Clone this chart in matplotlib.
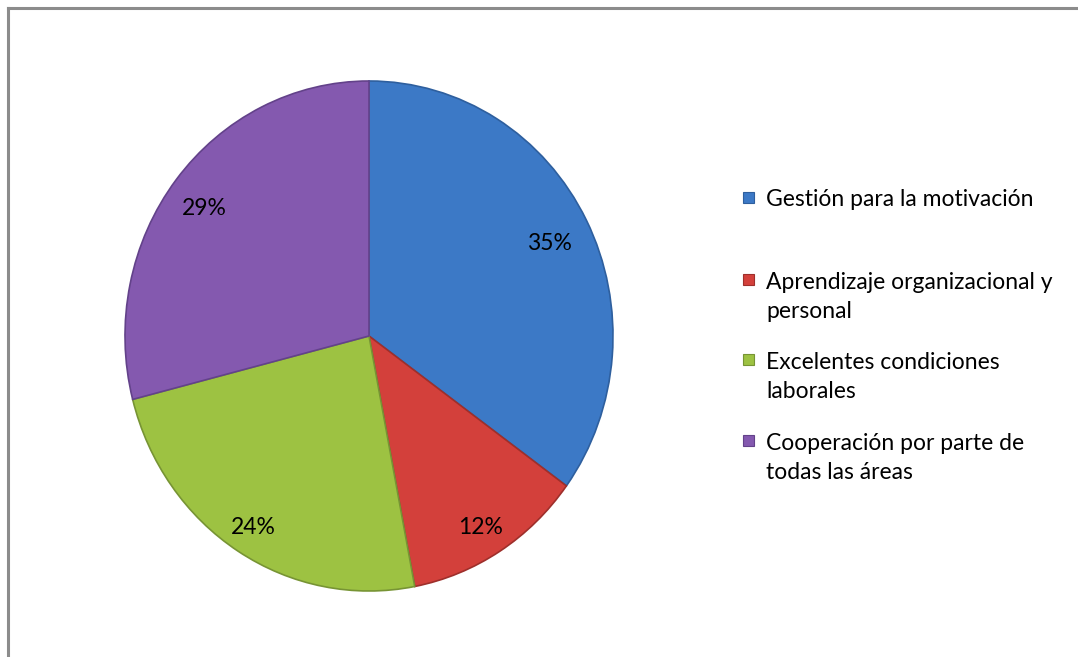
import numpy as np
import matplotlib
matplotlib.use("Agg")
import matplotlib.pyplot as plt
from matplotlib.patches import Rectangle
from matplotlib.lines import Line2D

categories = ["Gestión para la motivación",
              "Aprendizaje organizacional y\npersonal",
              "Excelentes condiciones\nlaborales",
              "Cooperación por parte de\ntodas las áreas"]
values = [35, 12, 24, 29]
colors = ["#3C79C6", "#D3403B", "#9DC242", "#8459AF"]
edges = ["#2E5F9E", "#9E2F2B", "#779434", "#63428A"]

W, H = 1078, 657
fig = plt.figure(figsize=(W / 100, H / 100), dpi=100)
fig.patch.set_facecolor("white")

# frame (top and left lines)
fig.add_artist(Line2D([8 / W, 1.0], [1 - 8 / H, 1 - 8 / H], color="#8C8C8C", lw=2.2))
fig.add_artist(Line2D([8 / W, 8 / W], [0, 1 - 8 / H], color="#8C8C8C", lw=2.2))

cx, cy, rx, ry = 369, 336, 244, 255
m = 1.05
ax = fig.add_axes([(cx - rx * m) / W, (H - cy - ry * m) / H, 2 * rx * m / W, 2 * ry * m / H])
wedges, texts, autotexts = ax.pie(values, colors=colors, startangle=90, counterclock=False,
                                  autopct="%1.0f%%", pctdistance=0.85,
                                  wedgeprops=dict(linewidth=1.2),
                                  textprops=dict(fontsize=16.5, family="Lato", color="black"))
for w, e in zip(wedges, edges):
    w.set_edgecolor(e)
# per-label radial distance
dists = [0.84, 0.87, 0.87, 0.845]
for w, t, d in zip(wedges, autotexts, dists):
    ang = np.deg2rad((w.theta1 + w.theta2) / 2)
    t.set_position((d * np.cos(ang) - 0.008, d * np.sin(ang) - 0.018))
ax.set_aspect("auto")
ax.set_xlim(-m, m)
ax.set_ylim(-m, m)
ax.axis("off")

# legend
ycenters = [200, 297, 377, 458]
for lab, col, ed, yc in zip(categories, colors, edges, ycenters):
    nlines = lab.count("\n") + 1
    ytop = yc - (nlines - 1) * 31 / 2
    fig.add_artist(Rectangle((743 / W, 1 - (ytop + 3) / H), 11 / W, 11 / H,
                             facecolor=col, edgecolor=ed, lw=0.8))
    fig.text(766 / W, 1 - yc / H, lab, fontsize=16.5, family="Lato",
             va="center", ha="left", linespacing=1.45)

fig.savefig("out.png", dpi=100)
